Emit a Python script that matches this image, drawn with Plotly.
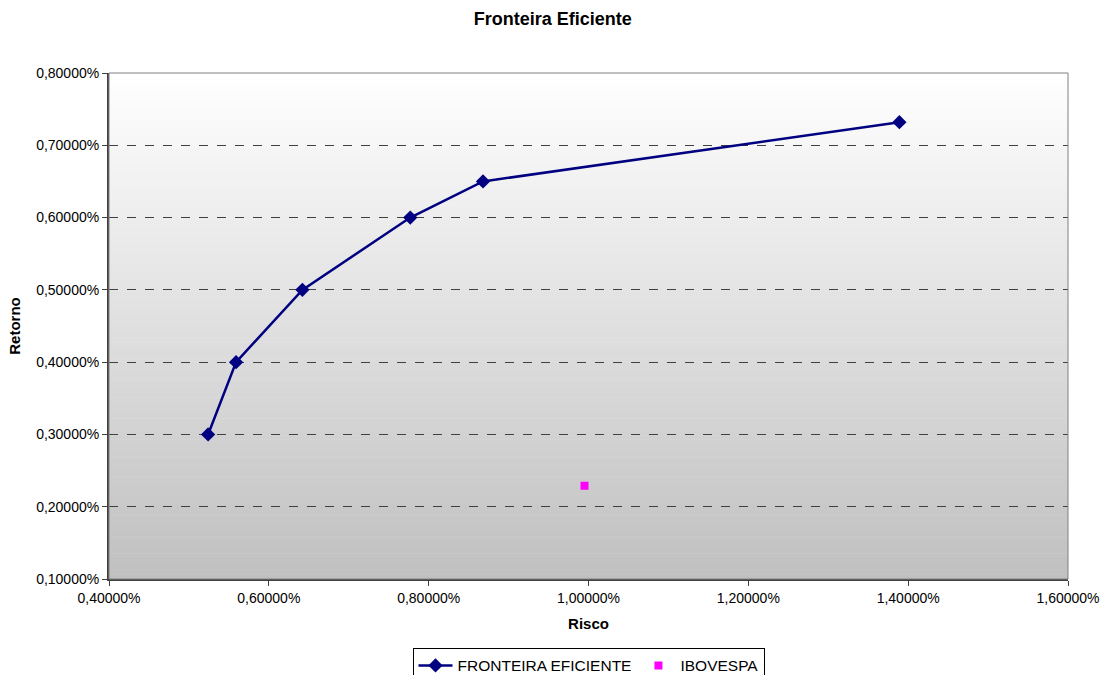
import plotly.graph_objects as go

# Efficient frontier (risk, return) as fractions
risco = [0.00524, 0.00559, 0.00642, 0.00777, 0.00868, 0.01389]
retorno = [0.0030, 0.0040, 0.0050, 0.0060, 0.0065, 0.00732]

# Market index point
ibov_risco = [0.00995]
ibov_retorno = [0.00229]

fig = go.Figure()

# Vertical gradient for the plot background (white at top to gray at bottom)
n = 120
top = (255, 255, 255)
bot = (192, 192, 192)
shapes = []
for i in range(n):
    t = i / (n - 1)
    c = tuple(round(top[k] + (bot[k] - top[k]) * t) for k in range(3))
    y1 = 1 - i / n
    y0 = 1 - (i + 1) / n
    shapes.append(dict(type="rect", xref="x domain", yref="y domain",
                       x0=0, x1=1, y0=y0, y1=y1 + 0.001,
                       fillcolor="rgb(%d,%d,%d)" % c, line_width=0, layer="below"))
# plot area frame
shapes.append(dict(type="rect", xref="x domain", yref="y domain",
                   x0=0, x1=1, y0=0, y1=1, line=dict(color="#808080", width=1),
                   fillcolor="rgba(0,0,0,0)", layer="above"))

fig.add_trace(go.Scatter(
    x=risco, y=retorno, mode="lines+markers", name="FRONTEIRA EFICIENTE",
    line=dict(color="#000080", width=2.5),
    marker=dict(symbol="diamond", size=11, color="#000080"),
))
fig.add_trace(go.Scatter(
    x=ibov_risco, y=ibov_retorno, mode="markers", name="IBOVESPA",
    marker=dict(symbol="square", size=8, color="#ff00ff"),
))

font = "Liberation Sans, Arial, sans-serif"
fig.update_layout(
    width=1101, height=675,
    margin=dict(l=109, r=33, t=73, b=96, autoexpand=False),
    paper_bgcolor="white", plot_bgcolor="rgba(0,0,0,0)",
    separators=",.",
    font=dict(family=font, size=14, color="black"),
    title=dict(text="<b>Fronteira Eficiente</b>", x=0.502, xanchor="center",
               y=0.973, yanchor="middle", font=dict(size=18, family=font)),
    shapes=shapes,
    showlegend=True,
    legend=dict(orientation="h", x=0.5, xanchor="center", y=-0.136, yanchor="top",
                bordercolor="black", borderwidth=1, bgcolor="white",
                font=dict(size=15.5, family=font), itemwidth=34,
                tracegroupgap=0),
)
fig.update_xaxes(
    range=[0.004, 0.016], dtick=0.002, tick0=0.004, tickformat=".5%",
    showgrid=False, zeroline=False,
    showline=True, linecolor="#404040", linewidth=2,
    ticks="outside", ticklen=5, tickcolor="#404040",
    title=dict(text="<b>Risco</b>", font=dict(size=15), standoff=14),
)
fig.update_yaxes(
    range=[0.001, 0.008], dtick=0.001, tick0=0.001, tickformat=".5%",
    showgrid=True, gridcolor="#404040", griddash="dash", gridwidth=1,
    zeroline=False,
    showline=True, linecolor="#404040", linewidth=2,
    ticks="outside", ticklen=5, tickcolor="#404040",
    title=dict(text="<b>Retorno</b>", font=dict(size=15), standoff=12),
)

fig.write_html("out.html")
